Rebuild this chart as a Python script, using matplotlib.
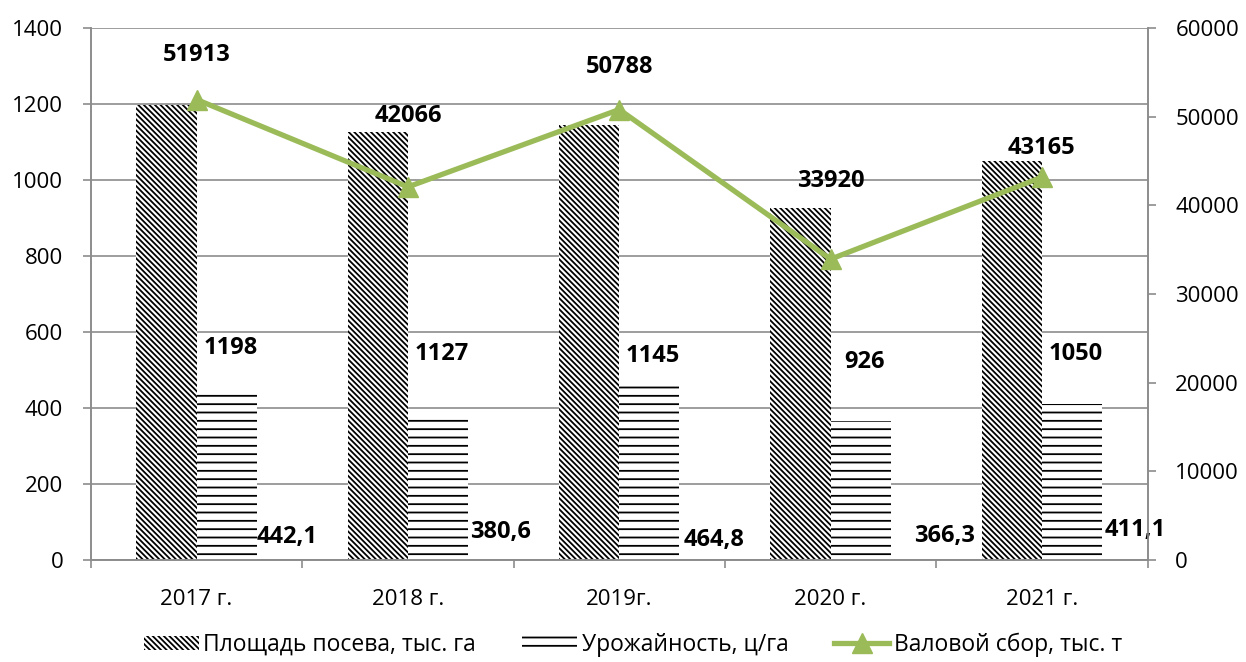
import matplotlib
matplotlib.use("Agg")
import matplotlib.pyplot as plt
import numpy as np
from matplotlib.patches import Patch
from matplotlib.lines import Line2D

plt.rcParams['font.family'] = ['Open Sans', 'DejaVu Sans']
plt.rcParams['hatch.linewidth'] = 1.3

years = ["2017 г.", "2018 г.", "2019г.", "2020 г.", "2021 г."]
area = [1198, 1127, 1145, 926, 1050]
yield_ = [442.1, 380.6, 464.8, 366.3, 411.1]
gross = [51913, 42066, 50788, 33920, 43165]
yield_labels = ["442,1", "380,6", "464,8", "366,3", "411,1"]

grid_c = "#8c8c8c"
green = "#9BBB59"
diag = "\\\\\\\\\\\\"
horiz = "--"

fig = plt.figure(figsize=(12.46, 6.62), dpi=100)
ax = fig.add_axes([0.073, 0.154, 0.848, 0.804])
ax2 = ax.twinx()

x = np.arange(len(years))
w = 0.285

ax.bar(x - w / 2, area, w, color="white", edgecolor="black", hatch=diag, linewidth=0, zorder=2)
ax.bar(x + w / 2, yield_, w, color="white", edgecolor="black", hatch=horiz, linewidth=0, zorder=2)

ax.set_ylim(0, 1400)
ax.set_yticks(range(0, 1401, 200))
ax.set_xlim(-0.5, len(years) - 0.5)
ax.set_xticks(x)
ax.set_xticklabels(years)
ax.set_xticks(np.arange(-0.5, len(years)), minor=True)
ax.tick_params(axis='x', which='major', length=0, pad=21, labelsize=16)
ax.tick_params(axis='x', which='minor', length=6, color=grid_c, width=1.2)
ax.tick_params(axis='y', length=6, color=grid_c, width=1.2, labelsize=16, pad=14)
ax.yaxis.grid(True, color=grid_c, linewidth=1.2, zorder=0)
ax.set_axisbelow(True)

ax2.plot(x, gross, color=green, linewidth=3.8, marker="^", markersize=15, zorder=5)
ax2.set_ylim(0, 60000)
ax2.set_yticks(range(0, 60001, 10000))
ax2.tick_params(axis='y', length=6, color=grid_c, width=1.2, labelsize=16, pad=14)

for a in (ax, ax2):
    a.spines["top"].set_visible(False)
    for s in ("left", "right", "bottom"):
        a.spines[s].set_color(grid_c)
        a.spines[s].set_linewidth(1.2)

# value labels
area_lab_y = [558, 543, 537, 521, 543]
for i, (v, yy) in enumerate(zip(area, area_lab_y)):
    ax.text(i + 0.16, yy, f"{v}", ha="center", va="center", fontsize=17, fontweight="bold")

yield_lab_y = [60, 73, 52, 63, 79]
yield_lab_dx = [0.43, 0.44, 0.45, 0.54, 0.44]
for i, (lab, yy, dx) in enumerate(zip(yield_labels, yield_lab_y, yield_lab_dx)):
    ax.text(i + dx, yy, lab, ha="center", va="center", fontsize=17, fontweight="bold")

gross_lab_y = [56900, 50100, 55600, 42700, 46400]
for i, (v, yy) in enumerate(zip(gross, gross_lab_y)):
    ax2.text(i, yy, f"{v}", ha="center", va="center", fontsize=17, fontweight="bold")

handles = [
    Patch(facecolor="white", edgecolor="black", hatch=diag, linewidth=0),
    Patch(facecolor="white", edgecolor="black", hatch=horiz, linewidth=0),
    Line2D([0], [0], color=green, linewidth=3.8, marker="^", markersize=15),
]
labels = ["Площадь посева, тыс. га", "Урожайность, ц/га", "Валовой сбор, тыс. т"]
fig.legend(handles, labels, loc="center", bbox_to_anchor=(0.508, 0.026), ncol=3,
           frameon=False, fontsize=16.5, handlelength=2.4, handleheight=0.6,
           handletextpad=0.2, columnspacing=2.0)

fig.savefig("out.png", dpi=100)
